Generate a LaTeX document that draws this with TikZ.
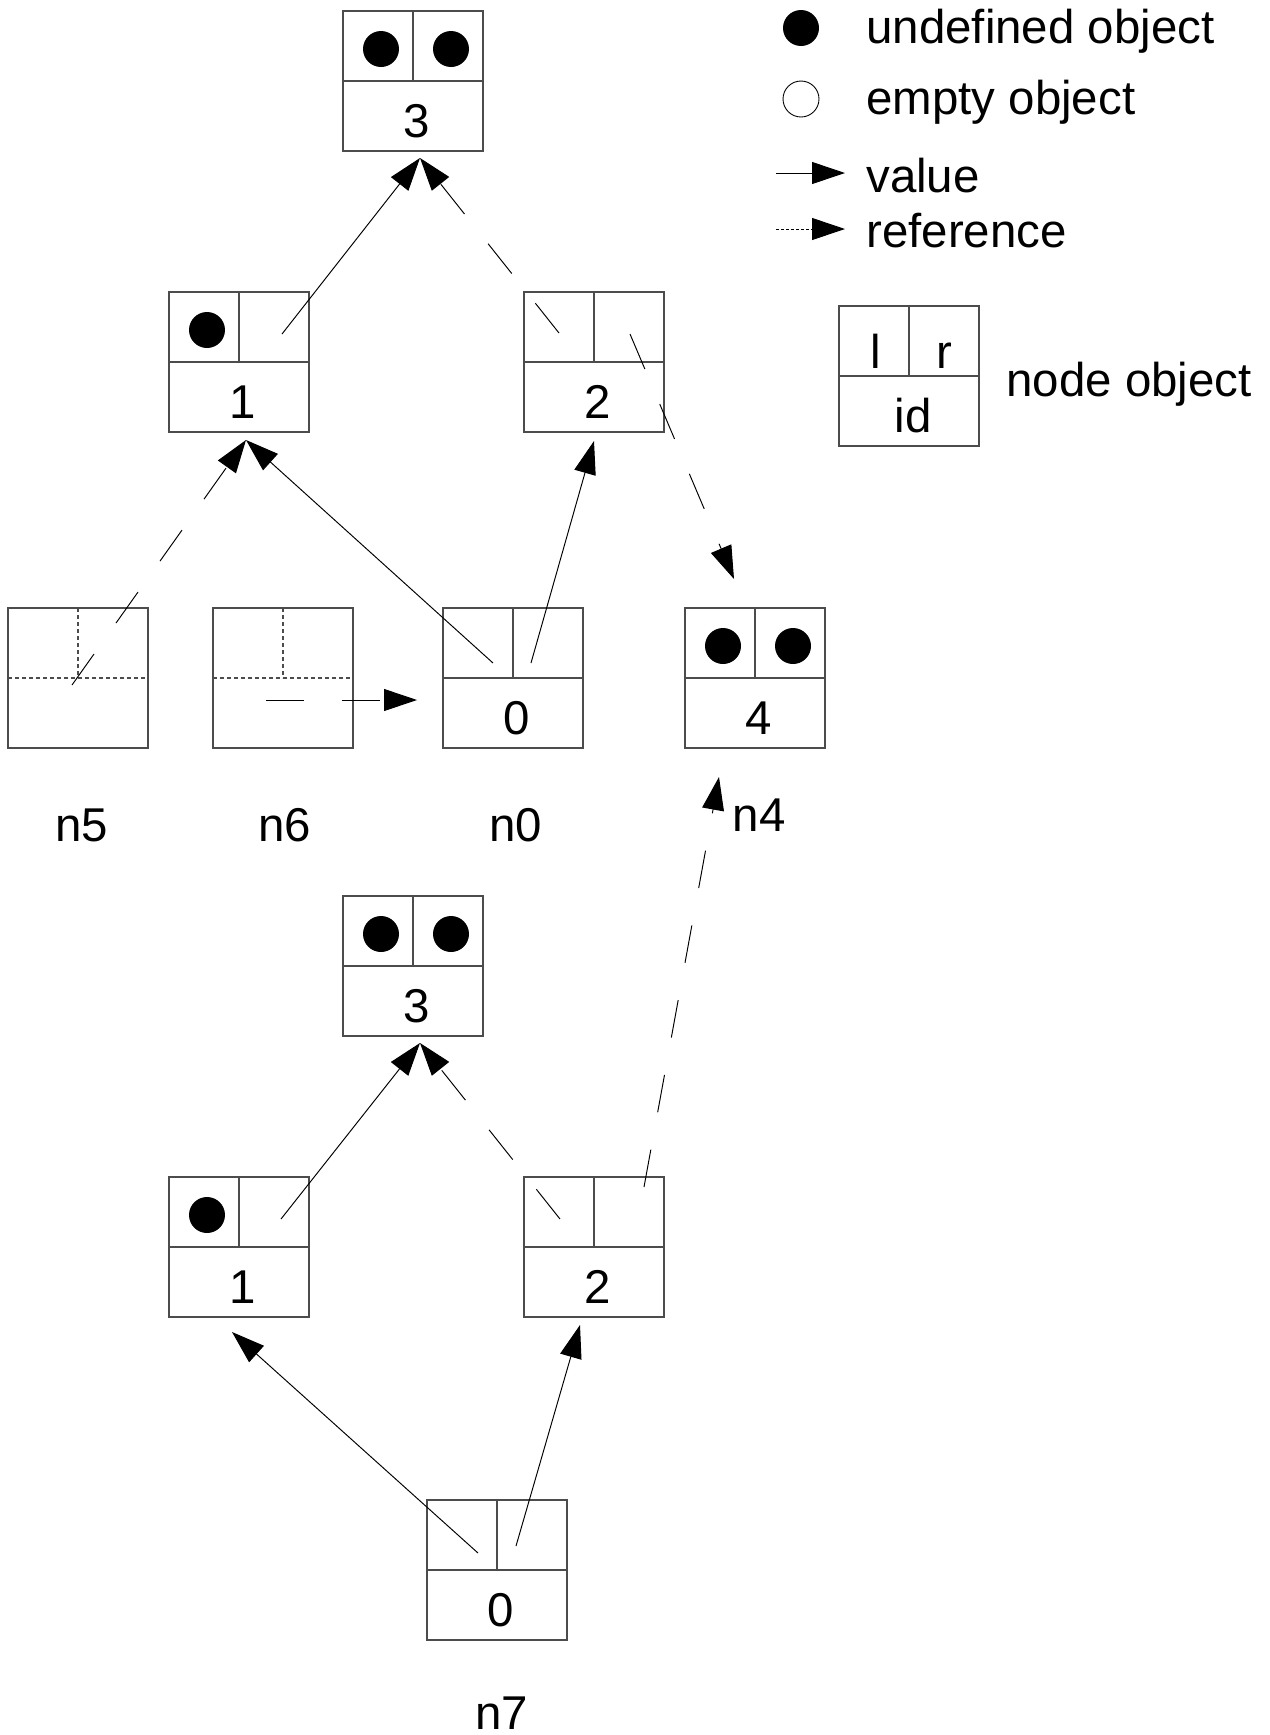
\documentclass[tikz,border=0pt]{standalone}
\usepackage{fontspec}
\setmainfont{Liberation Sans}
\usetikzlibrary{arrows.meta, positioning}
\tikzstyle{box} = [rectangle, draw=black!70, line width=0.7pt, minimum width=2.8cm, minimum height=2.8cm, inner sep=0pt, outer sep=0pt]
\tikzstyle{inner} = [draw=black!70, line width=0.7pt]
\tikzstyle{innerdash} = [inner, dash pattern=on 0.08cm off 0.06cm]
\tikzstyle{undefdot} = [circle, fill=black, minimum size=0.72cm, inner sep=0pt]
\tikzstyle{value} = [line width=0.55pt, -{Triangle[length=0.66cm, width=0.44cm]}]
\tikzstyle{ref} = [value, dash pattern=on 0.76cm off 0.76cm]
% node object: outer box, dividers, cell points and id text
\newcommand{\objbox}[4]{%
	\node (#1) [box] at (#2) {};
	\draw [#4] (#1.west) -- (#1.east) (#1.north) -- (#1.center);
	\coordinate (#1-l) at ([shift={(-35,-35)}]#1.center);
	\coordinate (#1-r) at ([shift={(35,-35)}]#1.center);
	\node (#1-id) [anchor=base] at ([shift={(4,56)}]#1.center) {#3};
}
\newcommand{\dotin}[1]{\node (#1dot) [undefdot] at ([shift={(3,3)}]#1) {};}

\begin{document}
\begin{tikzpicture}[x=0.02cm, y=-0.02cm, inner sep=0pt, font=\fontsize{27}{32}\selectfont]
	\useasboundingbox (0,0) rectangle (1269,1735);
	% upper tree
	\objbox{T3}{413,81}{3}{inner}
	\dotin{T3-l} \dotin{T3-r}
	\objbox{T1}{239,362}{1}{inner}
	\dotin{T1-l}
	\objbox{T2}{594,362}{2}{inner}
	\objbox{n5}{78,678}{}{innerdash}
	\objbox{n6}{283,678}{}{innerdash}
	\objbox{n0}{513,678}{0}{inner}
	\objbox{n4}{755,678}{4}{inner}
	\dotin{n4-l} \dotin{n4-r}
	\node (n5name) [anchor=base] at (82,841) {n5};
	\node (n6name) [anchor=base] at (285,841) {n6};
	\node (n0name) [anchor=base] at (516,841) {n0};
	\node (n4name) [anchor=base] at (759,831) {n4};
	% lower tree
	\objbox{B3}{413,966}{3}{inner}
	\dotin{B3-l} \dotin{B3-r}
	\objbox{B1}{239,1247}{1}{inner}
	\dotin{B1-l}
	\objbox{B2}{594,1247}{2}{inner}
	\objbox{n7}{497,1570}{0}{inner}
	\node (n7name) [anchor=base] at (502,1729) {n7};
	% connectors
	\draw [value] ([shift={(8,7)}]T1-r) -- ([shift={(7,7)}]T3.south);
	\draw [ref] ([shift={(0,6)}]T2-l) -- ([shift={(7,7)}]T3.south);
	\draw [ref] ([shift={(1,7)}]T2-r) -- ([shift={(-21,-29)}]n4.north);
	\draw [value] ([shift={(15,20)}]n0-l) -- ([shift={(7,8)}]T1.south);
	\draw [value] ([shift={(-17,20)}]n0-r) -- ([shift={(0,9)}]T2.south);
	\draw [ref] ([shift={(-6,7)}]n5.center) -- ([shift={(7,8)}]T1.south);
	\draw [ref] ([shift={(-17,22)}]n6.center) -- ([shift={(-26,22)}]n0.west);
	\draw [value] ([shift={(7,7)}]B1-r) -- ([shift={(7,7)}]B3.south);
	\draw [ref] ([shift={(1,7)}]B2-l) -- ([shift={(7,7)}]B3.south);
	\draw [ref] ([shift={(15,-25)}]B2-r) -- ([shift={(-36,29)}]n4.south);
	\draw [value] ([shift={(16,18)}]n7-l) -- ([shift={(-7,15)}]B1.south);
	\draw [value] ([shift={(-16,11)}]n7-r) -- ([shift={(-14,8)}]B2.south);
	% legend
	\node (undefmark) [undefdot] at (801,28) {};
	\node (emptymark) [undefdot, fill=white, draw=black, line width=0.5pt] at (801,99) {};
	\node (undefText) [anchor=base west] at (866,43) {undefined object};
	\node (emptyText) [anchor=base west] at (866,114) {empty object};
	\coordinate (valueFrom) at (776,173);
	\coordinate (valueTo) at (845,173);
	\draw [value] (valueFrom) -- (valueTo);
	\node (valueText) [anchor=base west] at (866,192) {value};
	\coordinate (refFrom) at (776,229);
	\coordinate (refTo) at (845,229);
	\draw [value, dash pattern=on 0.06cm off 0.04cm] (refFrom) -- (refTo);
	\node (refText) [anchor=base west] at (866,247) {reference};
	\objbox{L}{909,376}{id}{inner}
	\node (L-ltext) [anchor=base] at ([shift={(2,27)}]L-l) {l};
	\node (L-rtext) [anchor=base] at ([shift={(0,27)}]L-r) {r};
	\node (nodeText) [anchor=base west] at (1006,396) {node object};
\end{tikzpicture}
\end{document}
